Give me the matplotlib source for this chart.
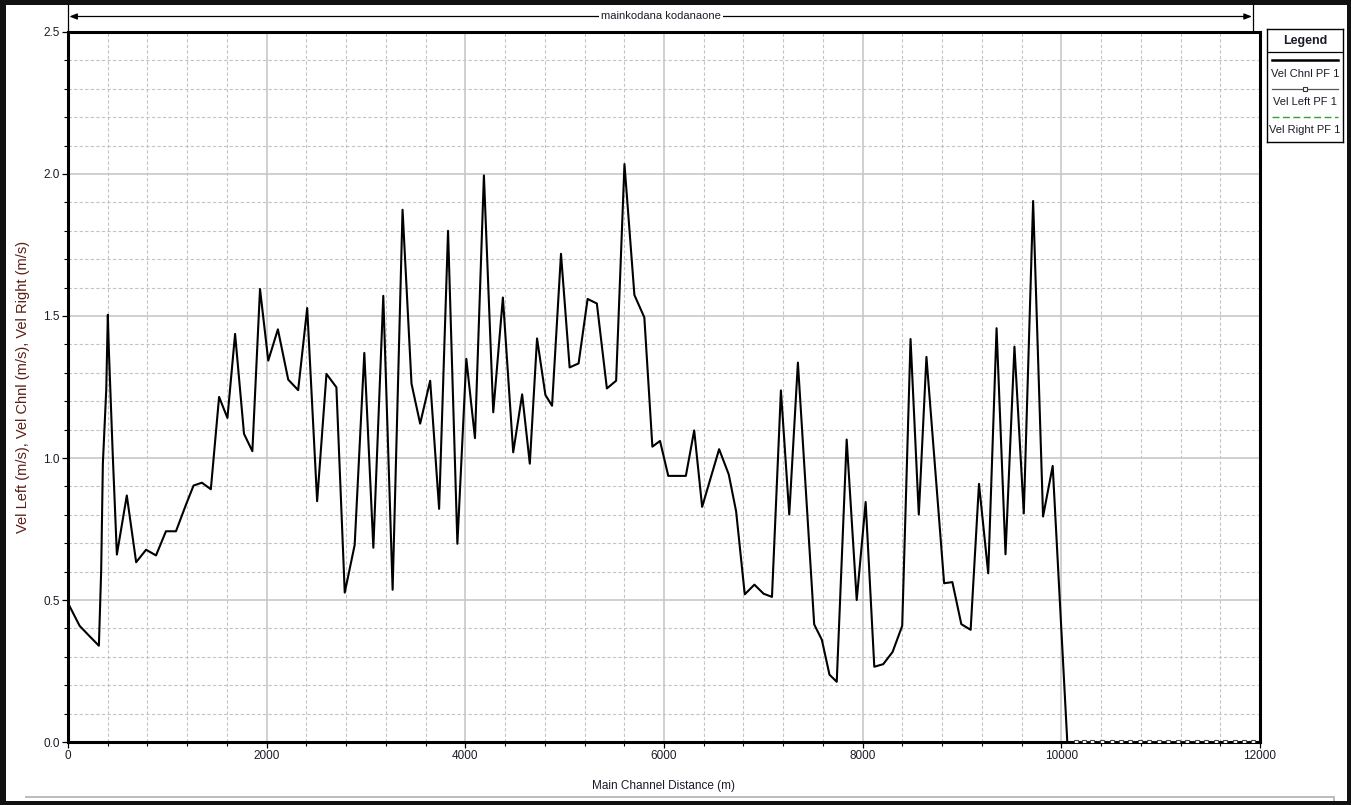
import matplotlib
matplotlib.use("Agg")
import matplotlib.pyplot as plt
from matplotlib.patches import Rectangle
from matplotlib.ticker import MultipleLocator, FormatStrFormatter
import matplotlib.transforms as mtransforms

plt.rcParams['font.family'] = ['Liberation Sans', 'DejaVu Sans']

# ---- profile data -------------------------------------------------------
reach_name = "mainkodana kodanaone"

chnl_dist = [0, 117, 210, 311, 334, 351, 385, 401, 411, 451, 492, 592, 686, 786,
             886, 986, 1087, 1187, 1264, 1348, 1438, 1521, 1605, 1682, 1772, 1856,
             1933, 2016, 2113, 2217, 2317, 2408, 2508, 2602, 2702, 2786, 2886, 2983,
             3074, 3174, 3268, 3368, 3458, 3545, 3646, 3736, 3826, 3920, 4010, 4097,
             4187, 4281, 4378, 4482, 4572, 4649, 4722, 4806, 4873, 4963, 5050, 5140,
             5231, 5324, 5425, 5518, 5602, 5702, 5802, 5883, 5960, 6043, 6220, 6304,
             6384, 6555, 6652, 6726, 6813, 6910, 7003, 7087, 7177, 7261, 7348, 7512,
             7589, 7666, 7739, 7839, 7940, 8030, 8117, 8207, 8301, 8398, 8482, 8565,
             8642, 8820, 8903, 8993, 9087, 9171, 9264, 9348, 9438, 9528, 9622, 9716,
             9816, 9913, 10060]
vel_chnl = [0.489, 0.409, 0.375, 0.339, 0.604, 0.98, 1.24, 1.504, 1.383, 1.007, 0.66,
            0.868, 0.633, 0.677, 0.657, 0.742, 0.742, 0.835, 0.903, 0.913, 0.89,
            1.215, 1.141, 1.437, 1.085, 1.024, 1.595, 1.343, 1.453, 1.276, 1.239,
            1.528, 0.848, 1.296, 1.249, 0.526, 0.694, 1.37, 0.684, 1.571, 0.536,
            1.874, 1.262, 1.121, 1.272, 0.821, 1.80, 0.698, 1.349, 1.07, 1.995,
            1.161, 1.565, 1.02, 1.224, 0.98, 1.421, 1.222, 1.184, 1.719, 1.319,
            1.333, 1.56, 1.544, 1.245, 1.272, 2.035, 1.574, 1.495, 1.04, 1.06,
            0.937, 0.937, 1.097, 0.828, 1.031, 0.942, 0.812, 0.52, 0.554, 0.522,
            0.511, 1.238, 0.801, 1.336, 0.414, 0.36, 0.237, 0.212, 1.065, 0.50,
            0.845, 0.265, 0.274, 0.317, 0.409, 1.419, 0.801, 1.356, 0.559, 0.563,
            0.415, 0.395, 0.909, 0.594, 1.457, 0.661, 1.392, 0.805, 1.905, 0.794,
            0.972, 0.0]

overbank_dist = [10145, 10228, 10312, 10406, 10507, 10597, 10691, 10789, 10882,
                 10983, 11077, 11174, 11268, 11362, 11459, 11553, 11647, 11744,
                 11838, 11932]
vel_left = [0.0, 0.0, 0.0, 0.0, 0.0, 0.0, 0.0, 0.0, 0.0, 0.0,
            0.0, 0.0, 0.0, 0.0, 0.0, 0.0, 0.0, 0.0, 0.0, 0.0]
vel_right = [0.0, 0.0, 0.0, 0.0, 0.0, 0.0, 0.0, 0.0, 0.0, 0.0,
             0.0, 0.0, 0.0, 0.0, 0.0, 0.0, 0.0, 0.0, 0.0, 0.0]

series_labels = ["Vel Chnl PF 1", "Vel Left PF 1", "Vel Right PF 1"]
x_label = "Main Channel Distance (m)"
y_label = "Vel Left (m/s), Vel Chnl (m/s), Vel Right (m/s)"

# ---- styling ---------------------------------------------------------------
W, H = 1351, 805
TXT = "#1c1c28"
GRID = "#c4c4c4"
GREEN = "#3a9e3a"

fig = plt.figure(figsize=(W / 100, H / 100), dpi=100)
fig.patch.set_facecolor("white")

ax_l, ax_r, ax_t, ax_b = 68, 1260, 32, 742
ax = fig.add_axes([ax_l / W, 1 - ax_b / H, (ax_r - ax_l) / W, (ax_b - ax_t) / H])

# series
ax.plot(overbank_dist, vel_right, color=GREEN, lw=1.0, dashes=(5, 2.5), zorder=3)
ax.plot(overbank_dist, vel_left, color="#555555", lw=0.8, marker="s", ms=3.2,
        mfc="white", mec="#444444", mew=0.8, zorder=4)
ax.plot(chnl_dist, vel_chnl, color="black", lw=1.5, zorder=5)

ax.set_xlim(0, 12000)
ax.set_ylim(0, 2.5)
ax.xaxis.set_major_locator(MultipleLocator(2000))
ax.xaxis.set_minor_locator(MultipleLocator(400))
ax.yaxis.set_major_locator(MultipleLocator(0.5))
ax.yaxis.set_minor_locator(MultipleLocator(0.1))
ax.yaxis.set_major_formatter(FormatStrFormatter("%.1f"))

ax.grid(which="major", color=GRID, lw=1.1, ls="-", zorder=0)
ax.grid(which="minor", color=GRID, lw=0.8, ls=(0, (3, 2)), zorder=0)
ax.set_axisbelow(True)

for s in ax.spines.values():
    s.set_linewidth(2.2)
    s.set_color("black")

ax.tick_params(which="major", direction="out", length=4, width=0.9, colors="black",
               labelcolor=TXT, labelsize=8.5, pad=2)
ax.tick_params(which="minor", direction="out", length=3, width=0.8, colors="black")

ax.set_xlabel(x_label, fontsize=8.5, color=TXT)
ax.xaxis.set_label_coords(0.5, -(786 - ax_b) / (ax_b - ax_t))
ax.xaxis.label.set_va("center")
ax.set_ylabel(y_label, fontsize=10.5, color="#5a1e16")
ax.yaxis.set_label_coords(-(ax_l - 23) / (ax_r - ax_l), 0.5)
ax.yaxis.label.set_va("center")

# reach extent marker above the plot
reach_start = min(chnl_dist)
reach_end = max(overbank_dist)
trans = mtransforms.blended_transform_factory(ax.transData, ax.transAxes)
y_arrow = 1 + (ax_t - 16.5) / (ax_b - ax_t)
y_topfig = 1 + (ax_t - 4) / (ax_b - ax_t)
for xb in (reach_start, reach_end):
    ax.plot([xb, xb], [1.0, y_topfig], transform=trans, color="black", lw=0.9,
            clip_on=False, zorder=6)
ax.annotate("", xy=(reach_start, y_arrow), xytext=(reach_end, y_arrow),
            xycoords=trans, textcoords=trans,
            arrowprops=dict(arrowstyle="<|-|>,head_length=0.45,head_width=0.18",
                            color="black", lw=0.9, shrinkA=1, shrinkB=1))
ax.text((reach_start + reach_end) / 2, y_arrow, reach_name, transform=trans,
        ha="center", va="center", fontsize=8, color=TXT, zorder=7,
        bbox=dict(facecolor="white", edgecolor="none", pad=1.5))

# legend panel
lg_l, lg_r, lg_t, lg_b = 1267, 1343, 29, 142
lax = fig.add_axes([lg_l / W, 1 - lg_b / H, (lg_r - lg_l) / W, (lg_b - lg_t) / H])
lax.set_xlim(0, 1)
lax.set_ylim(0, 1)
lax.set_xticks([])
lax.set_yticks([])
for s in lax.spines.values():
    s.set_linewidth(1.0)
    s.set_color("black")


def fy(py):
    return (lg_b - py) / (lg_b - lg_t)


x0, x1 = 5 / 76, 71 / 76
lax.text(0.5, fy(41), "Legend", ha="center", va="center", fontsize=9,
         fontweight="bold", color=TXT)
lax.plot([0, 1], [fy(52), fy(52)], color="black", lw=0.9)
lax.plot([x0, x1], [fy(60), fy(60)], color="black", lw=1.8)
lax.text(0.5, fy(74), series_labels[0], ha="center", va="center", fontsize=8, color=TXT)
lax.plot([x0, x1], [fy(89), fy(89)], color="#555555", lw=0.9)
lax.plot([0.5], [fy(89)], marker="s", ms=3.2, mfc="white", mec="#333333", mew=0.8)
lax.text(0.5, fy(102), series_labels[1], ha="center", va="center", fontsize=8, color=TXT)
lax.plot([x0, x1], [fy(117), fy(117)], color=GREEN, lw=1.0, dashes=(5, 2.5))
lax.text(0.5, fy(130), series_labels[2], ha="center", va="center", fontsize=8, color=TXT)

# window frame around the chart
def frame_rect(x, y, w, h, color):
    fig.patches.append(Rectangle((x / W, 1 - (y + h) / H), w / W, h / H,
                                 transform=fig.transFigure, facecolor=color,
                                 edgecolor="none", zorder=10))


frame_rect(0, 0, W, 5, "#111111")
frame_rect(0, 0, 6, H, "#111111")
frame_rect(W - 4, 0, 4, H, "#111111")
frame_rect(0, H - 4, W, 4, "#111111")
frame_rect(25, 796, 1308, 2, "#bdbdbd")
frame_rect(1333, 796, 2, 5, "#bdbdbd")

fig.savefig("out.png", dpi=100)
